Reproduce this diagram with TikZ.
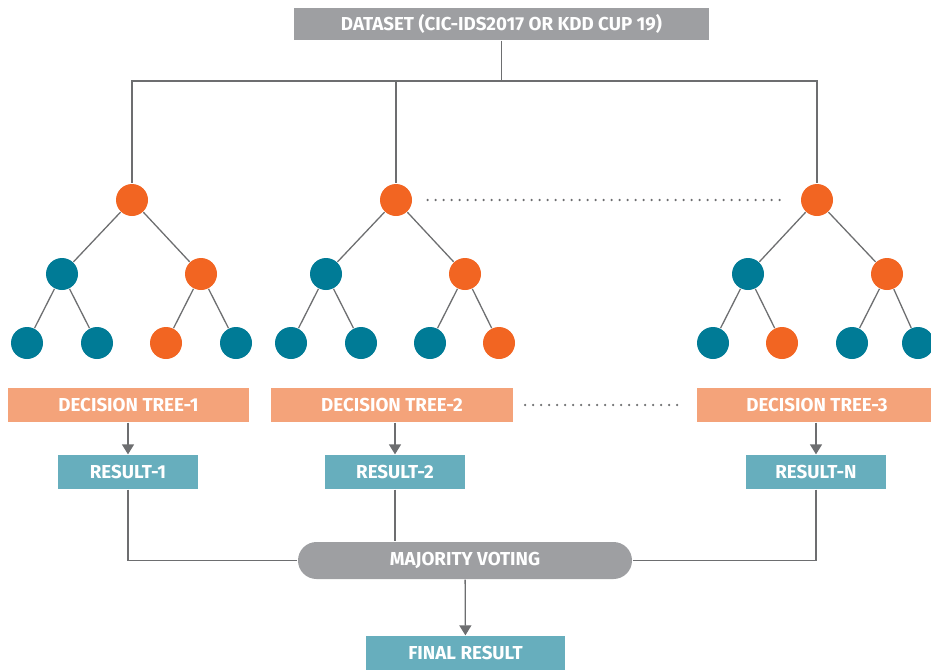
\documentclass[tikz,border=0pt]{standalone}
\usepackage{fontspec}
\setmainfont{Fira Sans}
\usepackage{tikz}
\usetikzlibrary{shapes.misc, arrows.meta}

\definecolor{boxgray}{HTML}{9E9FA2}
\definecolor{linegray}{HTML}{6D6E70}
\definecolor{leaforange}{HTML}{F26522}
\definecolor{leafteal}{HTML}{007B96}
\definecolor{treesalmon}{HTML}{F4A37A}
\definecolor{resteal}{HTML}{67AEBD}

\begin{document}
\begin{tikzpicture}[x=0.03cm, y=-0.03cm, color=linegray, line width=1.1pt,
        label/.style={text=white, font=\fontsize{16}{18}\selectfont\bfseries, inner sep=0pt},
        grayhead/.style={label, fill=boxgray, minimum width=12.45cm, minimum height=0.96cm},
        treebox/.style={label, fill=treesalmon, minimum width=7.23cm, minimum height=1.02cm},
        resbox/.style={label, fill=resteal, minimum width=4.2cm, minimum height=1.02cm},
        vote/.style={label, rounded rectangle, fill=boxgray, minimum width=10.02cm, minimum height=1.11cm},
        org/.style={circle, fill=leaforange, minimum size=0.96cm, inner sep=0pt},
        teal/.style={circle, fill=leafteal, minimum size=0.96cm, inner sep=0pt},
        arr/.style={-{Triangle[length=0.3cm, width=0.36cm]}},
        dots/.style={line width=2.2pt, line cap=round, dash pattern=on 0pt off 0.24cm}]
        \clip (0,0) rectangle (931,669);
        \useasboundingbox (0,0) rectangle (931,669);

        \node[grayhead] (data) at (501.5, 24) {DATASET (CIC-IDS2017 OR KDD CUP 19)};
        \coordinate (split) at (501.5, 81);

        % tree 1
        \node[org] (t1r) at (132, 200) {};
        \node[teal] (t1a) at (62, 274) {};
        \node[org] (t1b) at (201, 274) {};
        \node[teal] (t1aa) at (27, 343) {};
        \node[teal] (t1ab) at (97, 343) {};
        \node[org] (t1ba) at (166, 343) {};
        \node[teal] (t1bb) at (236, 343) {};

        % tree 2
        \node[org] (t2r) at (396, 200) {};
        \node[teal] (t2a) at (326, 274) {};
        \node[org] (t2b) at (465, 274) {};
        \node[teal] (t2aa) at (291, 343) {};
        \node[teal] (t2ab) at (361, 343) {};
        \node[teal] (t2ba) at (430, 343) {};
        \node[org] (t2bb) at (499, 343) {};

        % tree 3
        \node[org] (t3r) at (817, 200) {};
        \node[teal] (t3a) at (748, 274) {};
        \node[org] (t3b) at (887, 274) {};
        \node[teal] (t3aa) at (713, 343) {};
        \node[org] (t3ab) at (782, 343) {};
        \node[teal] (t3ba) at (852, 343) {};
        \node[teal] (t3bb) at (918, 343) {};

        \node[treebox] (dt1) at (128.5, 405) {DECISION TREE-1};
        \node[treebox] (dt2) at (392, 405) {DECISION TREE-2};
        \node[treebox] (dt3) at (817, 405) {DECISION TREE-3};

        \node[resbox] (res1) at (128, 472) {RESULT-1};
        \node[resbox] (res2) at (395, 472) {RESULT-2};
        \node[resbox] (res3) at (816, 472) {RESULT-N};

        \node[vote] (voting) at (465, 560.5) {MAJORITY VOTING};
        \node[resbox, minimum width=5.97cm] (final) at (465.5, 653) {FINAL RESULT};

        \draw (data) -- (split);
        \draw (split) -| (t1r);
        \draw (split) -| (t2r);
        \draw (split) -| (t3r);

        \draw (t1r) -- (t1a);
        \draw (t1r) -- (t1b);
        \draw (t1a) -- (t1aa);
        \draw (t1a) -- (t1ab);
        \draw (t1b) -- (t1ba);
        \draw (t1b) -- (t1bb);

        \draw (t2r) -- (t2a);
        \draw (t2r) -- (t2b);
        \draw (t2a) -- (t2aa);
        \draw (t2a) -- (t2ab);
        \draw (t2b) -- (t2ba);
        \draw (t2b) -- (t2bb);

        \draw (t3r) -- (t3a);
        \draw (t3r) -- (t3b);
        \draw (t3a) -- (t3aa);
        \draw (t3a) -- (t3ab);
        \draw (t3b) -- (t3ba);
        \draw (t3b) -- (t3bb);

        \draw[dots, shorten <=0.45cm, shorten >=0.42cm] (t2r) -- (t3r);
        \draw[dots, shorten <=0.36cm, shorten >=0.48cm] (dt2) -- (dt3);

        \draw[arr] (res1 |- dt1.south) -- (res1);
        \draw[arr] (res2 |- dt2.south) -- (res2);
        \draw[arr] (res3 |- dt3.south) -- (res3);

        \draw (res1) |- (voting);
        \draw (res2) -- (res2 |- voting.north);
        \draw (res3) |- (voting);
        \draw[arr] (voting) -- (final);
    \end{tikzpicture}
\end{document}
